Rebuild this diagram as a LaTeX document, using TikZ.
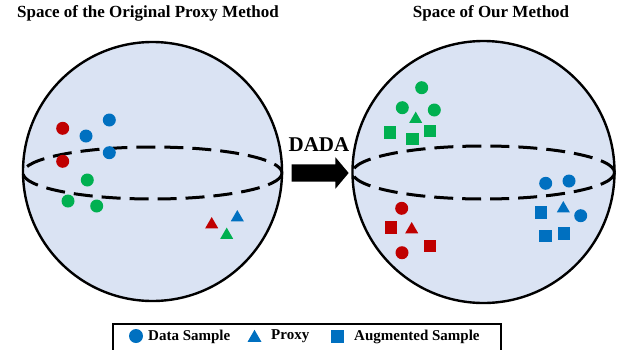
\documentclass[tikz,border=0pt]{standalone}
\usepackage{fontspec}
\setmainfont{Liberation Serif}
\usetikzlibrary{shapes.geometric,shapes.arrows}

\definecolor{sphereFill}{HTML}{DAE3F3}
\definecolor{cRed}{HTML}{C00000}
\definecolor{cBlue}{HTML}{0070C0}
\definecolor{cGreen}{HTML}{00B050}

\tikzset{
  sphere/.style={draw=black, line width=2.4pt, fill=sphereFill},
  equator/.style={draw=black, line width=3pt, dash pattern=on 19pt off 9pt},
  dot/.style={circle, fill=#1, draw=none, inner sep=0pt, minimum size=13pt},
  tri/.style={regular polygon, regular polygon sides=3, fill=#1, draw=none,
              inner sep=0pt, minimum size=15pt, yshift=-1.8pt},
  sqr/.style={rectangle, fill=#1, draw=none, inner sep=0pt, minimum size=12.5pt},
  heading/.style={font=\bfseries\fontsize{17}{20}\selectfont},
  legtext/.style={font=\bfseries\fontsize{15}{18}\selectfont, anchor=west, inner sep=0pt},
}

\begin{document}
\begin{tikzpicture}[x=1pt, y=-1pt]
  \useasboundingbox (0,0) rectangle (618,349);
  \clip (0,0) rectangle (618,349);

  % titles
  \node[heading] (titleL) at (148,13.5) {Space of the Original Proxy Method};
  \node[heading] (titleR) at (491,13.5) {Space of Our Method};

  % spheres with dashed equators
  \path[sphere] (152.5,171.5) circle[radius=129.5];
  \path[equator] (152.5,173) ellipse[x radius=129.5, y radius=26];
  \path[sphere] (483.5,172) circle[radius=131];
  \path[equator] (483.5,172.5) ellipse[x radius=131, y radius=26.5];

  % original proxy space: samples and proxies
  \node[dot=cRed]  (lr1) at (62.7,128.3) {};
  \node[dot=cRed]  (lr2) at (62.7,161.3) {};
  \node[dot=cBlue] (lb1) at (86,136) {};
  \node[dot=cBlue] (lb2) at (109.3,120) {};
  \node[dot=cBlue] (lb3) at (109.3,152.7) {};
  \node[dot=cGreen] (lg1) at (87.3,180) {};
  \node[dot=cGreen] (lg2) at (68,201) {};
  \node[dot=cGreen] (lg3) at (96.7,206) {};
  \node[tri=cRed]   (lpr) at (211.7,222.7) {};
  \node[tri=cBlue]  (lpb) at (237.3,215.7) {};
  \node[tri=cGreen] (lpg) at (226.7,233.3) {};

  % our method: green cluster
  \node[dot=cGreen] (rg1) at (421.7,87.7) {};
  \node[dot=cGreen] (rg2) at (402.3,107.7) {};
  \node[dot=cGreen] (rg3) at (434.3,110) {};
  \node[tri=cGreen] (rpg) at (415.7,117.3) {};
  \node[sqr=cGreen] (rga1) at (390,132.3) {};
  \node[sqr=cGreen] (rga2) at (412.7,139) {};
  \node[sqr=cGreen] (rga3) at (430,131) {};

  % our method: red cluster
  \node[dot=cRed] (rr1) at (401.7,208.3) {};
  \node[dot=cRed] (rr2) at (402,252.7) {};
  \node[tri=cRed] (rpr) at (411.7,227.7) {};
  \node[sqr=cRed] (rra1) at (391,227.3) {};
  \node[sqr=cRed] (rra2) at (430,246) {};

  % our method: blue cluster
  \node[dot=cBlue] (rb1) at (545.7,183.3) {};
  \node[dot=cBlue] (rb2) at (569,181) {};
  \node[dot=cBlue] (rb3) at (580.7,215.7) {};
  \node[tri=cBlue] (rpb) at (563.3,206.7) {};
  \node[sqr=cBlue] (rba1) at (541,212.7) {};
  \node[sqr=cBlue] (rba2) at (545.7,236) {};
  \node[sqr=cBlue] (rba3) at (564,233.3) {};

  % transition arrow
  \node[font=\bfseries\fontsize{21}{24}\selectfont] (dada) at (319,145) {DADA};
  \node[single arrow, fill=black, draw=none, inner xsep=0pt, inner ysep=8.5pt,
        minimum height=57pt, single arrow head extend=7pt,
        single arrow tip angle=100, single arrow head indent=0pt]
        (dadaArrow) at (316.5,173) {};

  % legend
  \node[draw=black, line width=2pt, rectangle, minimum width=388pt,
        minimum height=40pt, anchor=north west, inner sep=0pt] (legend) at (112,323) {};
  \node[circle, fill=cBlue, inner sep=0pt, minimum width=14pt] (legDot) at (136,336) {};
  \node[legtext] (legDotText) at (148,336.5) {Data Sample};
  \node[tri=cBlue, minimum size=16pt] (legTri) at (254.5,336) {};
  \node[legtext] (legTriText) at (271,336.5) {Proxy};
  \node[sqr=cBlue, minimum size=13pt] (legSq) at (337,336) {};
  \node[legtext] (legSqText) at (354,336.5) {Augmented Sample};
\end{tikzpicture}
\end{document}
